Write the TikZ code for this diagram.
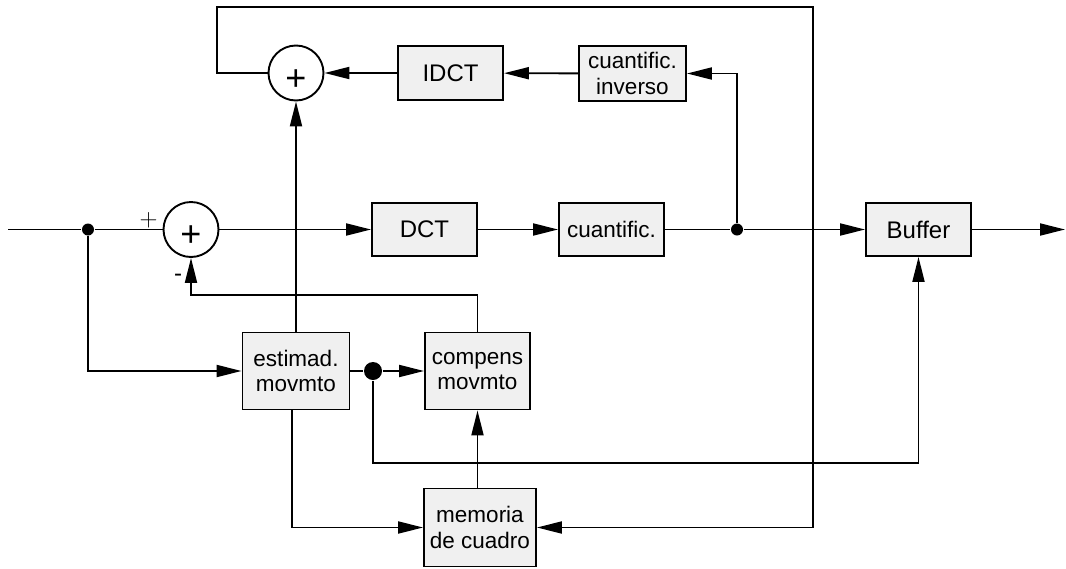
\documentclass[tikz,border=0pt]{standalone}
\usepackage{fontspec}
\setmainfont{Liberation Sans}
\usetikzlibrary{arrows.meta}
\definecolor{boxfill}{RGB}{240,240,240}
\begin{document}
\begin{tikzpicture}[x=1pt,y=-1pt,
  line width=1.9pt,
  >={Triangle[length=25pt,width=12pt]},
  block/.style={draw,fill=boxfill,inner sep=0pt,align=center,
    font=\fontsize{22.5}{25.5}\selectfont},
  bigtext/.style={font=\fontsize{24}{25.5}\selectfont},
  summer/.style={draw,circle,minimum size=55pt,inner sep=0pt,
    font=\fontsize{36}{36}\selectfont,text height=34pt,text depth=0pt},
  dot/.style={circle,fill,inner sep=0pt,minimum size=#1},
  sign/.style={inner sep=0pt,font=\fontsize{24}{24}\selectfont}]
\useasboundingbox (0,0) rectangle (1066,568);

% forward path
\coordinate (in) at (8,229.5);
\node[dot=12pt] (j1) at (88,229.5) {};
\node[summer] (sum1) at (191,229.5) {+};
\node[block,bigtext,minimum width=105pt,minimum height=53pt] (dct) at (424.5,229.5) {DCT};
\node[block,minimum width=105pt,minimum height=53pt] (q) at (611.5,229.5) {cuantific.};
\node[dot=12pt] (j2) at (737,229.5) {};
\node[block,bigtext,minimum width=105pt,minimum height=53pt] (buf) at (918.5,229.5) {Buffer};
\coordinate (out) at (1065,229.5);

% reconstruction loop
\node[summer] (sum2) at (296,73) {+};
\node[block,bigtext,minimum width=105pt,minimum height=54pt] (idct) at (450.5,73) {IDCT};
\node[block,minimum width=107pt,minimum height=55pt] (qi) at (632.5,73.5) {cuantific.\\inverso};

% motion estimation / compensation
\node[block,minimum width=107pt,minimum height=77pt] (est) at (296,371) {estimad.\\movmto};
\node[dot=18pt] (bd) at (373,371) {};
\node[block,minimum width=105pt,minimum height=77pt] (comp) at (477.5,371) {compens\\movmto};
\node[block,minimum width=112pt,minimum height=78pt] (mem) at (480,527.5) {memoria\\de cuadro};

\coordinate (tl) at (217,7);
\coordinate (tr) at (813,7);
\coordinate (k) at (191,295);
\coordinate (fb) at (373,463);

% signs at the input summer
\node[inner sep=0pt,font=\fontsize{24}{24}\selectfont] (plus) at (148.5,220.5) {$+$};
\node[sign] (minus) at (178,278) {-};

% connectors
\draw (in) -- (j1) -- (sum1);
\draw[->] (sum1) -- (dct);
\draw[->] (dct) -- (q);
\draw (q) -- (j2);
\draw[->] (j2) -- (buf);
\draw[->] (buf) -- (out);
\draw[->] (j2) |- (qi.east);
\draw[->] (qi) -- (idct);
\draw[->] (idct) -- (sum2);
\draw[->] (sum2.west) -| (tl) -- (tr) |- (mem.east);
\draw[->] (j1) |- (est.west);
\draw[->] (est.north) -- (sum2.south);
\draw (est.east) -- (bd);
\draw[->] (bd) -- (comp.west);
\draw[->] (comp.north) |- (k) -- (sum1.south);
\draw[->] (bd) -- (fb) -| (buf.south);
\draw[->] ([xshift=-4pt]est.south) |- (mem.west);
\draw[->] (mem.north -| comp.south) -- (comp.south);
\end{tikzpicture}
\end{document}
